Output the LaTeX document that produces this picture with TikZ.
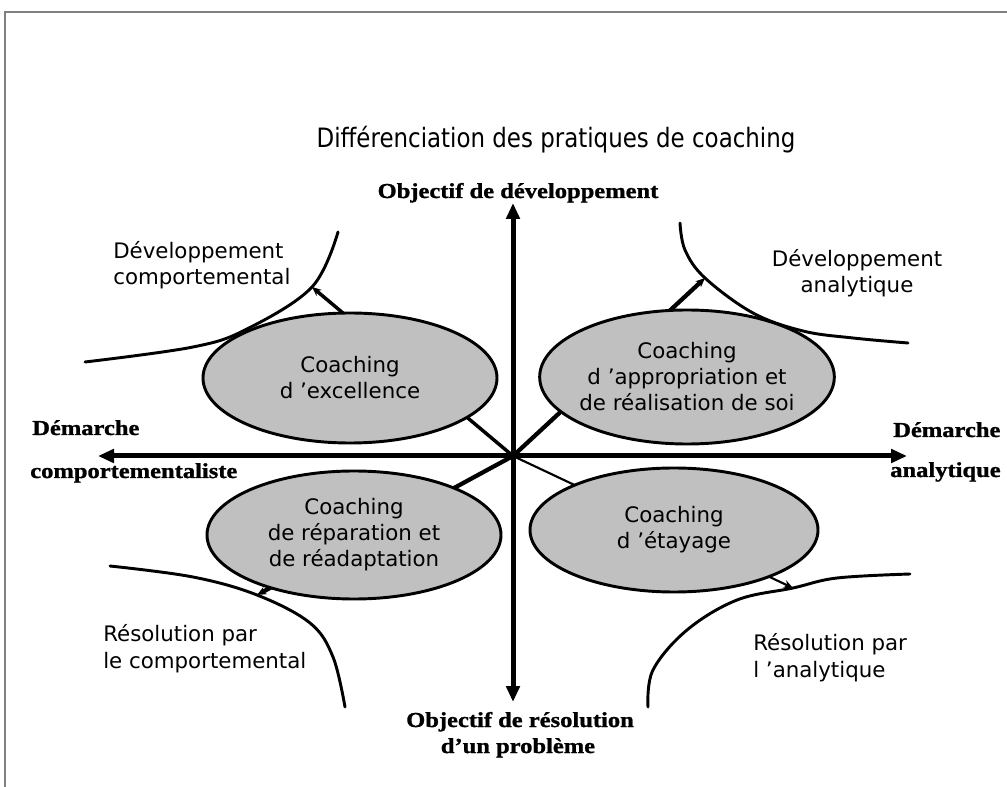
\documentclass[tikz,border=0pt]{standalone}
\usepackage{fontspec}
\usetikzlibrary{arrows.meta,shapes.geometric}
\setmainfont{DejaVu Sans}
\newfontfamily\txfont{DejaVu Sans}
\newfontfamily\ttlfont{DejaVu Sans}[FakeStretch=0.86]
\newfontfamily\axfont{Liberation Serif}[FakeStretch=1.15, BoldFeatures={FakeBold=1.2}]
\definecolor{silver}{HTML}{C0C0C0}
\definecolor{framegray}{HTML}{808080}
\tikzset{
  frameline/.style={draw=framegray, line width=1.5pt},
  titletext/.style={font=\ttlfont\fontsize{20}{23}\selectfont, inner sep=0pt},
  axlab/.style={font=\axfont\bfseries\fontsize{16}{19}\selectfont, inner sep=0pt},
  lab/.style={font=\txfont\fontsize{16}{20}\selectfont, inner sep=0pt},
  coach/.style={ellipse, draw, line width=2.2pt, fill=silver, inner sep=-20pt,
    align=center, font=\txfont\fontsize{16}{19.5}\selectfont},
  axisline/.style={line width=3.75pt, {Triangle[length=12pt,width=10pt]}-{Triangle[length=12pt,width=10pt]}},
  diag/.style={-{Stealth[length=7pt,width=6pt]}},
  curveline/.style={line width=2.2pt, line cap=round}
}
\begin{document}
\begin{tikzpicture}[x=0.75pt,y=-0.75pt]
\useasboundingbox (0,0) rectangle (1007,787);
% frame
\draw[frameline] (5,787) -- (5,12) -- (1007,12);
% title
\node[titletext, anchor=base] (title) at (556,148) {Différenciation des pratiques de coaching};
% key points
\coordinate (O) at (513,456);
\coordinate (axT) at (513,203);
\coordinate (axB) at (513,702);
\coordinate (axL) at (98,456);
\coordinate (axR) at (907,456);
\coordinate (tlTip) at (312,287);
\coordinate (trTip) at (705,278);
\coordinate (blTip) at (257,595);
\coordinate (brTip) at (793,588);
% diagonal arrows
\draw[diag, line width=2.6pt] (O) -- (tlTip);
\draw[diag, line width=3.2pt] (O) -- (trTip);
\draw[diag, line width=3.2pt] (O) -- (blTip);
\draw[diag, line width=1.6pt] (O) -- (brTip);
% axes
\draw[axisline] (axT) -- (axB);
\draw[axisline] (axL) -- (axR);
% ellipses
\node[coach, minimum width=220.5pt, minimum height=97.5pt] (exc) at (350,378) {Coaching\\d ’excellence};
\node[coach, minimum width=221pt, minimum height=100.5pt] (app) at (687,377) {Coaching\\d ’appropriation et\\de réalisation de soi};
\node[coach, minimum width=220.5pt, minimum height=96pt] (rep) at (354,535) {Coaching\\de réparation et\\de réadaptation};
\node[coach, minimum width=216pt, minimum height=93pt] (eta) at (674,530) {Coaching\\d ’étayage};
% curves
\draw[curveline] plot[smooth, tension=0.6] coordinates {(85,362) (193,347) (247,329) (312,287) (338,232)};
\draw[curveline] plot[smooth, tension=0.6] coordinates {(680,223) (685,250) (705,278) (753,313) (803,331) (853,338) (908,343)};
\draw[curveline] plot[smooth, tension=0.6] coordinates {(110,566) (193,577) (257,595) (310,623) (333,657) (345,707)};
\draw[curveline] plot[smooth, tension=0.6] coordinates {(648,707) (653,670) (687,630) (737,600) (793,588) (837,578) (910,574)};
% axis labels
\node[axlab, anchor=base] (topLab) at (518,198) {Objectif de développement};
\node[axlab, anchor=base west] (leftLabA) at (32,435) {Démarche};
\node[axlab, anchor=base west] (leftLabB) at (30,478) {comportementaliste};
\node[axlab, anchor=base west] (rightLabA) at (893,437) {Démarche};
\node[axlab, anchor=base west] (rightLabB) at (890,477) {analytique};
\node[axlab, anchor=base] (botLabA) at (520,727) {Objectif de résolution};
\node[axlab, anchor=base] (botLabB) at (518,753) {d’un problème};
% outer labels
\node[lab, align=left, anchor=base west] (devC) at (113,285) {Développement\\comportemental};
\node[lab, align=center, anchor=base] (devA) at (857,293) {Développement\\analytique};
\node[lab, align=left, anchor=base west] (resC) at (103,668) {Résolution par\\le comportemental};
\node[lab, align=left, anchor=base west] (resA) at (753,677) {Résolution par\\l ’analytique};
\end{tikzpicture}
\end{document}
